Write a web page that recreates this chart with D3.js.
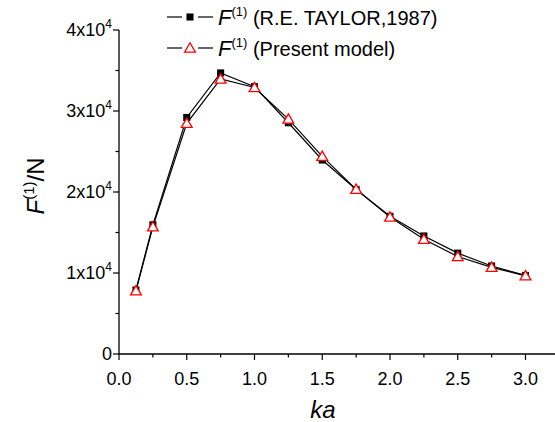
<!DOCTYPE html>
<html>
<head>
<meta charset="utf-8">
<script src="https://cdn.jsdelivr.net/npm/d3@7"></script>
<style>
  body { margin: 0; background: #fff; }
  svg { font-family: "Liberation Sans", Arial, sans-serif; }
</style>
</head>
<body>
<svg id="chart" width="555" height="422"></svg>
<script>
// données
const ka = [0.125, 0.25, 0.5, 0.75, 1.0, 1.25, 1.5, 1.75, 2.0, 2.25, 2.5, 2.75, 3.0];
const taylor = [7900, 15950, 29200, 34700, 33000, 28550, 23950, 20300, 17000, 14570, 12450, 10870, 9700];
const present = [7800, 15700, 28480, 33950, 32900, 29000, 24400, 20330, 16900, 14160, 12030, 10700, 9650];
const xTicks = [0, 0.5, 1.0, 1.5, 2.0, 2.5, 3.0];
const yTicks = [0, 10000, 20000, 30000, 40000];

const svg = d3.select("#chart");

const x = d3.scaleLinear().domain([0, 3]).range([119, 525.5]);
const y = d3.scaleLinear().domain([0, 40000]).range([354, 30]);

// axe X
const xAxis = svg.append("g").attr("transform", "translate(0,354)");
xAxis.append("line").attr("x1", 119).attr("x2", 555).attr("stroke", "#000").attr("stroke-width", 1.3);
xAxis.selectAll(".minor").data(d3.range(0, 3.26, 0.25)).enter().append("line")
  .attr("x1", d => x(d)).attr("x2", d => x(d)).attr("y1", 0)
  .attr("y2", d => xTicks.some(t => Math.abs(t - d) < 1e-6) ? 6 : 3.5)
  .attr("stroke", "#000").attr("stroke-width", 1.2);
xAxis.selectAll(".lbl").data(xTicks).enter().append("text")
  .attr("x", d => x(d)).attr("y", 31).attr("text-anchor", "middle")
  .attr("font-size", 18).text(d => d.toFixed(1));

// axe Y
const yAxis = svg.append("g").attr("transform", "translate(119,0)");
yAxis.append("line").attr("y1", 354).attr("y2", 30).attr("stroke", "#000").attr("stroke-width", 1.3);
yAxis.selectAll(".minor").data(d3.range(0, 40001, 5000)).enter().append("line")
  .attr("y1", d => y(d)).attr("y2", d => y(d)).attr("x1", 0)
  .attr("x2", d => d % 10000 === 0 ? -6 : -3.5)
  .attr("stroke", "#000").attr("stroke-width", 1.2);
const yLbl = yAxis.selectAll(".lbl").data(yTicks).enter().append("text")
  .attr("x", -7).attr("y", d => y(d) + 6).attr("text-anchor", "end").attr("font-size", 18);
yLbl.each(function(d) {
  const t = d3.select(this);
  if (d === 0) { t.text("0"); return; }
  t.append("tspan").text((d / 10000) + "x10");
  t.append("tspan").attr("dy", -8).attr("font-size", 12).text("4");
});

// titres des axes
const yTitle = svg.append("text").attr("transform", "translate(44,186) rotate(-90)")
  .attr("text-anchor", "middle").attr("font-size", 24);
yTitle.append("tspan").attr("font-style", "italic").text("F");
yTitle.append("tspan").attr("dy", -10).attr("font-size", 15).text("(1)");
yTitle.append("tspan").attr("dy", 10).text("/N");

svg.append("text").attr("x", 323).attr("y", 418).attr("text-anchor", "middle")
  .attr("font-size", 24).attr("font-style", "italic").text("ka");

// courbes
const line = d3.line().x(d => x(d[0])).y(d => y(d[1]));
const dataT = ka.map((k, i) => [k, taylor[i]]);
const dataP = ka.map((k, i) => [k, present[i]]);

svg.append("path").datum(dataT).attr("d", line).attr("fill", "none").attr("stroke", "#000").attr("stroke-width", 1.2);
svg.append("path").datum(dataP).attr("d", line).attr("fill", "none").attr("stroke", "#000").attr("stroke-width", 1.2);

const square = d3.symbol().type(d3.symbolSquare).size(50);
const tri = d3.symbol().type(d3.symbolTriangle).size(50);

svg.selectAll(".sq").data(dataT).enter().append("path")
  .attr("d", square).attr("transform", d => `translate(${x(d[0])},${y(d[1])})`)
  .attr("fill", "#000");
svg.selectAll(".tr").data(dataP).enter().append("path")
  .attr("d", tri).attr("transform", d => `translate(${x(d[0])},${y(d[1]) + 1})`)
  .attr("fill", "#fff").attr("stroke", "#f00").attr("stroke-width", 1.3);

// légende
const legend = [
  {label: " (R.E. TAYLOR,1987)", sym: "sq", y: 17},
  {label: " (Present model)", sym: "tr", y: 48}
];
legend.forEach(l => {
  const g = svg.append("g");
  g.append("line").attr("x1", 167).attr("x2", 182).attr("y1", l.y).attr("y2", l.y).attr("stroke", "#000").attr("stroke-width", 1.2);
  g.append("line").attr("x1", 198).attr("x2", 213).attr("y1", l.y).attr("y2", l.y).attr("stroke", "#000").attr("stroke-width", 1.2);
  if (l.sym === "sq") {
    g.append("path").attr("d", square).attr("transform", `translate(190,${l.y})`).attr("fill", "#000");
  } else {
    g.append("path").attr("d", tri).attr("transform", `translate(190,${l.y + 1})`).attr("fill", "#fff").attr("stroke", "#f00").attr("stroke-width", 1.3);
  }
  const t = g.append("text").attr("x", 218).attr("y", l.y + 8).attr("font-size", 20);
  t.append("tspan").attr("font-style", "italic").attr("font-size", 22).text("F");
  t.append("tspan").attr("dy", -9).attr("font-size", 13).text("(1)");
  t.append("tspan").attr("dy", 9).text(l.label);
});
</script>
</body>
</html>
